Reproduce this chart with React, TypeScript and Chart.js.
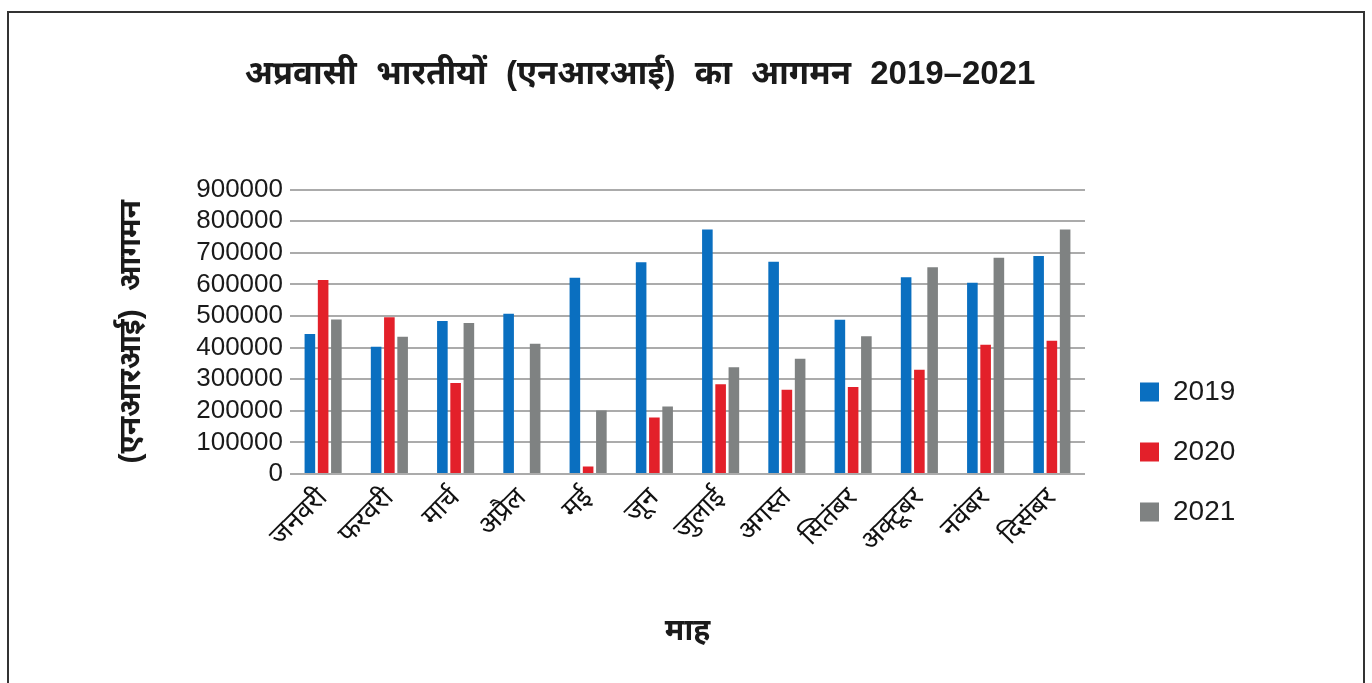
import React, { useEffect, useRef } from "react";
import { Chart, registerables } from "chart.js";

Chart.register(...registerables);

const TITLE = "अप्रवासी भारतीयों (एनआरआई) का आगमन 2019–2021";
const Y_TITLE = "(एनआरआई) आगमन";
const X_TITLE = "माह";

const months = [
  "जनवरी", "फरवरी", "मार्च", "अप्रैल", "मई", "जून",
  "जुलाई", "अगस्त", "सितंबर", "अक्टूबर", "नवंबर", "दिसंबर",
];
const seriesLabels = ["2019", "2020", "2021"];
const values2019 = [443000, 403000, 484000, 507000, 621000, 670000, 774000, 672000, 488000, 623000, 605000, 690000];
const values2020 = [614000, 496000, 288000, 0, 24000, 179000, 284000, 267000, 275000, 330000, 409000, 422000];
const values2021 = [489000, 434000, 478000, 412000, 201000, 214000, 338000, 365000, 436000, 654000, 684000, 774000];
const seriesColors = ["#0a6fc0", "#e3202a", "#7f8282"];
const yMin = 0;
const yMax = 900000;
const yStep = 100000;

const FONT = "'Liberation Sans', Arimo, 'Noto Sans Devanagari', 'Lohit Devanagari', 'Noto Sans', sans-serif";

const LEG_X = 1108;
const LEG_Y = 346;

const legendShift = {
  id: "legendShift",
  afterLayout(chart: any) {
    const lg = chart.legend;
    if (!lg) return;
    const w = lg.width;
    const h = lg.height;
    lg.left = LEG_X;
    lg.right = LEG_X + w;
    lg.top = LEG_Y;
    lg.bottom = LEG_Y + h;
  },
};

const wideSpaces = {
  id: "wideSpaces",
  beforeDraw(chart: any) {
    const ctx = chart.ctx as any;
    if ("wordSpacing" in ctx) ctx.wordSpacing = "10px";
  },
  afterDraw(chart: any) {
    const ctx = chart.ctx as any;
    if ("wordSpacing" in ctx) ctx.wordSpacing = "0px";
  },
};

export default function App() {
  const ref = useRef<HTMLCanvasElement | null>(null);

  useEffect(() => {
    if (!ref.current) return;
    const chart = new Chart(ref.current, {
      type: "bar",
      data: {
        labels: months,
        datasets: [values2019, values2020, values2021].map((d, i) => ({
          label: seriesLabels[i],
          data: d,
          backgroundColor: seriesColors[i],
          borderWidth: 0,
          categoryPercentage: 0.6,
          barPercentage: 0.8,
        })),
      },
      options: {
        responsive: false,
        animation: false,
        layout: { padding: { left: 195, right: 287, top: 0, bottom: 0 } },
        plugins: {
          title: {
            display: true,
            text: TITLE,
            color: "#1a1a1a",
            font: { family: FONT, size: 33, weight: "bold", lineHeight: 1.2 },
            padding: { top: 55, bottom: 95 },
          },
          legend: {
            display: true,
            position: "chartArea",
            align: "start",
            labels: {
              color: "#1a1a1a",
              font: { family: FONT, size: 28 },
              boxWidth: 19,
              boxHeight: 19,
              padding: 32,
            },
          },
          tooltip: { enabled: false },
        },
        scales: {
          x: {
            grid: { display: false, drawTicks: false },
            border: { display: false },
            ticks: {
              color: "#111",
              font: { family: FONT, size: 27 },
              minRotation: 45,
              maxRotation: 45,
              autoSkip: false,
              padding: 8,
            },
            title: {
              display: true,
              text: X_TITLE,
              color: "#1a1a1a",
              font: { family: FONT, size: 30, weight: "bold", lineHeight: 1.2 },
              padding: { top: 0, bottom: 33 },
            },
            afterFit: (s: any) => {
              s.height = 683 - 474;
            },
          },
          y: {
            min: yMin,
            max: yMax,
            grid: { color: "#ababab", lineWidth: 2, drawTicks: false },
            border: { display: false },
            ticks: {
              stepSize: yStep,
              autoSkip: false,
              color: "#1a1a1a",
              font: { family: FONT, size: 26 },
              padding: 7,
              callback: (v: any) => String(v),
            },
            title: {
              display: true,
              text: Y_TITLE,
              color: "#1a1a1a",
              font: { family: FONT, size: 30, weight: "bold", lineHeight: 1.2 },
              padding: { top: -81, bottom: 0 },
            },
            afterFit: (s: any) => {
              s.width = 290 - 195;
            },
          },
        },
      },
      plugins: [legendShift, wideSpaces],
    });
    return () => chart.destroy();
  }, []);

  return (
    <div
      style={{
        position: "fixed",
        left: 0,
        top: 0,
        width: 1372,
        height: 683,
        overflow: "hidden",
        background: "#fff",
      }}
    >
      <canvas
        ref={ref}
        width={1372}
        height={683}
        style={{ position: "absolute", left: 0, top: 0, width: 1372, height: 683 }}
      />
      <div
        style={{
          position: "absolute",
          left: 7,
          top: 11,
          width: 1358,
          height: 760,
          boxSizing: "border-box",
          border: "2px solid #333",
          pointerEvents: "none",
        }}
      />
    </div>
  );
}
